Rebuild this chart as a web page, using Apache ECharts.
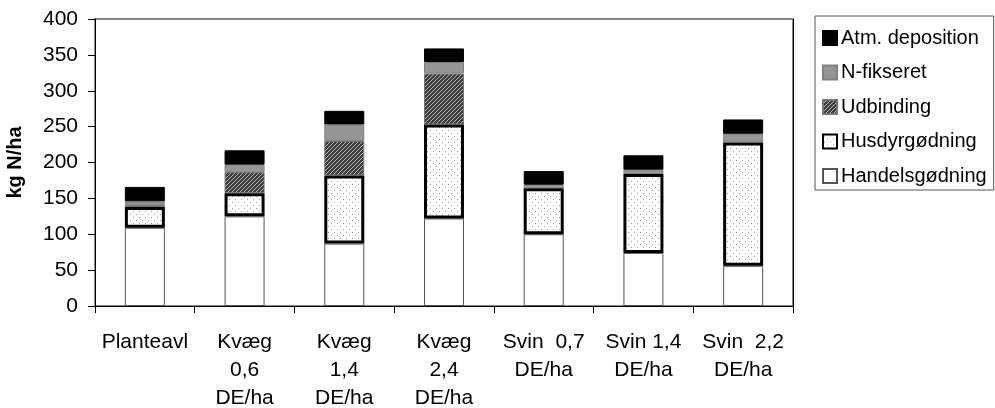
<!DOCTYPE html>
<html>
<head>
<meta charset="utf-8">
<script src="https://cdn.jsdelivr.net/npm/echarts@6/dist/echarts.min.js"></script>
<style>
  html, body { margin: 0; padding: 0; background: #fff; }
  #chart { width: 995px; height: 408px; }
</style>
</head>
<body>
<div id="chart"></div>
<script>
// Nitrogen input per farm type (kg N/ha), stacked by source
const categories = ['Planteavl', 'Kvæg\n0,6\nDE/ha', 'Kvæg\n1,4\nDE/ha', 'Kvæg\n2,4\nDE/ha', 'Svin  0,7\nDE/ha', 'Svin 1,4\nDE/ha', 'Svin  2,2\nDE/ha'];
const handelsgodning = [109, 125, 87, 122, 100, 74, 56];
const husdyrgodning  = [29, 32, 95, 131, 64, 110, 172];
const udbinding      = [3, 30, 48, 71, null, null, null];
const nFikseret      = [5, 10, 23, 16, 5, 6, 12];
const atmDeposition  = [20, 20, 19, 19, 19, 20, 20];
const yTicks = { min: 0, max: 400, step: 50 };

const FONT = '"Liberation Sans", Arial, sans-serif';

// Fill patterns: fine diagonal hatch and sparse dots
function hatchPattern() {
  const c = document.createElement('canvas');
  c.width = 4; c.height = 4;
  const g = c.getContext('2d');
  g.fillStyle = '#3c3c3c';
  g.fillRect(0, 0, 4, 4);
  g.fillStyle = '#b8b8b8';
  for (let i = 0; i < 4; i++) g.fillRect(i, 3 - i, 1, 1);
  return { image: c, repeat: 'repeat' };
}
function dotPattern() {
  const c = document.createElement('canvas');
  c.width = 6; c.height = 6;
  const g = c.getContext('2d');
  g.fillStyle = '#ffffff';
  g.fillRect(0, 0, 6, 6);
  g.fillStyle = '#9a9a9a';
  g.fillRect(1, 1, 1, 1);
  g.fillRect(4, 4, 1, 1);
  return { image: c, repeat: 'repeat' };
}

const chart = echarts.init(document.getElementById('chart'), null, { renderer: 'canvas' });

function seg(name, data, itemStyle, z) {
  return { name, type: 'bar', stack: 'N', data, barWidth: 40, itemStyle, z, emphasis: { disabled: true } };
}

chart.setOption({
  animation: false,
  textStyle: { fontFamily: FONT },
  grid: {
    left: 95, right: 202, top: 19, bottom: 102,
    containLabel: false, outerBoundsMode: 'none',
    show: true, borderColor: '#888', borderWidth: 2
  },
  legend: {
    orient: 'vertical',
    left: 815, top: 16,
    padding: [12, 7, 4, 7],
    itemGap: 14.5,
    itemWidth: 14, itemHeight: 14,
    icon: 'rect',
    borderColor: '#555', borderWidth: 1,
    selectedMode: false,
    textStyle: { fontFamily: FONT, fontSize: 20, color: '#000', padding: [0, 0, 0, -1] },
    data: ['Atm. deposition', 'N-fikseret', 'Udbinding', 'Husdyrgødning', 'Handelsgødning']
  },
  xAxis: {
    type: 'category',
    data: categories,
    axisLine: { lineStyle: { color: '#000', width: 1 } },
    axisTick: { show: true, length: 7, lineStyle: { color: '#000' } },
    axisLabel: { color: '#000', fontSize: 21, lineHeight: 28, margin: 22, interval: 0, fontFamily: FONT }
  },
  yAxis: [{
    type: 'value',
    min: yTicks.min, max: yTicks.max, interval: yTicks.step,
    name: 'kg N/ha', nameLocation: 'middle', nameRotate: 90, nameGap: 70,
    nameTextStyle: { fontSize: 20, fontWeight: 'bold', color: '#000', fontFamily: FONT },
    axisLine: { show: true, lineStyle: { color: '#000', width: 1 } },
    axisTick: { show: true, length: 7, lineStyle: { color: '#000' } },
    axisLabel: { color: '#000', fontSize: 21, margin: 17, fontFamily: FONT },
    splitLine: { show: false }
  }, {
    type: 'value', position: 'right',
    min: yTicks.min, max: yTicks.max, interval: yTicks.step,
    axisLine: { show: true, lineStyle: { color: '#000', width: 1 } },
    axisTick: { show: false }, axisLabel: { show: false }, splitLine: { show: false }
  }],
  series: [
    seg('Handelsgødning', handelsgodning, { color: '#fff', borderColor: '#555', borderWidth: 1 }, 2),
    seg('Husdyrgødning', husdyrgodning, { color: dotPattern(), borderColor: '#000', borderWidth: 3 }, 3),
    seg('Udbinding', udbinding, { color: hatchPattern(), borderColor: '#777', borderWidth: 1 }, 2),
    seg('N-fikseret', nFikseret, { color: '#969696', borderColor: '#808080', borderWidth: 1 }, 2),
    seg('Atm. deposition', atmDeposition, { color: '#000', borderColor: '#000', borderWidth: 1 }, 2)
  ]
});
</script>
</body>
</html>
